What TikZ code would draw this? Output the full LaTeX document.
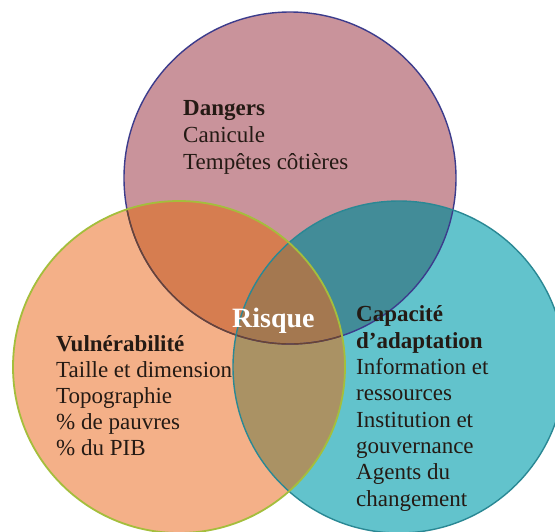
\documentclass[tikz,border=0pt]{standalone}
\usepackage{fontspec}
\setmainfont{Liberation Serif}
\definecolor{topfill}{HTML}{C9939B}
\definecolor{leftfill}{HTML}{F4B088}
\definecolor{rightfill}{HTML}{62C3CC}
\definecolor{tlfill}{HTML}{D67D50}
\definecolor{trfill}{HTML}{428C98}
\definecolor{lrfill}{HTML}{AA9264}
\definecolor{allfill}{HTML}{A47850}
\definecolor{topline}{HTML}{3C3C8C}
\definecolor{topline2}{HTML}{6A4434}
\definecolor{leftline}{HTML}{A4BE3C}
\definecolor{rightline}{HTML}{2A8894}
\definecolor{textc}{HTML}{241A14}
\begin{document}
\begin{tikzpicture}[x=1pt,y=-1pt,
  txt/.style={anchor=base west, inner sep=0pt, align=left, text=textc},
  risk/.style={anchor=base west, inner sep=0pt, text=white,
    font=\fontsize{28}{30}\selectfont\bfseries}]
\useasboundingbox (0,0) rectangle (555,531);
\clip (0,0) rectangle (555,531);
\fill[white] (0,0) rectangle (555,531);
\coordinate (T) at (290,178);
\coordinate (L) at (179,367);
\coordinate (R) at (399,367);
\def\rr{166pt}
% base fills
\fill[topfill] (T) circle[radius=\rr];
\fill[leftfill] (L) circle[radius=\rr];
\fill[rightfill] (R) circle[radius=\rr];
% pairwise overlaps
\begin{scope}
  \clip (T) circle[radius=\rr];
  \fill[tlfill] (L) circle[radius=\rr];
  \fill[trfill] (R) circle[radius=\rr];
\end{scope}
\begin{scope}
  \clip (L) circle[radius=\rr];
  \fill[lrfill] (R) circle[radius=\rr];
  \clip (T) circle[radius=\rr];
  \fill[allfill] (R) circle[radius=\rr];
\end{scope}
% outlines
\draw[topline, line width=1.4pt] (T) circle[radius=\rr];
\begin{scope}
  \clip (L) circle[radius=\rr];
  \draw[topline2, line width=1.4pt] (T) circle[radius=\rr];
\end{scope}
\draw[rightline, line width=1.4pt] (R) circle[radius=\rr];
\draw[leftline, line width=1.8pt] (L) circle[radius=\rr];
% texts (anchored at the baseline of the last line)
\node[txt, font=\fontsize{23}{27}\selectfont] (dangers) at (183,169) {\textbf{Dangers}\\Canicule\\Tempêtes côtières};
\node[txt, font=\fontsize{23}{26}\selectfont] (vuln) at (56,455) {\textbf{Vulnérabilité}\\Taille et dimension\\Topographie\\\% de pauvres\\\% du PIB};
\node[txt, font=\fontsize{23}{26.3}\selectfont] (cap) at (356,506) {\textbf{Capacité}\\\textbf{d’adaptation}\\Information et\\ressources\\Institution et\\gouvernance\\Agents du\\changement};
\node[risk] (risque) at (232,327) {Risque};
\end{tikzpicture}
\end{document}
